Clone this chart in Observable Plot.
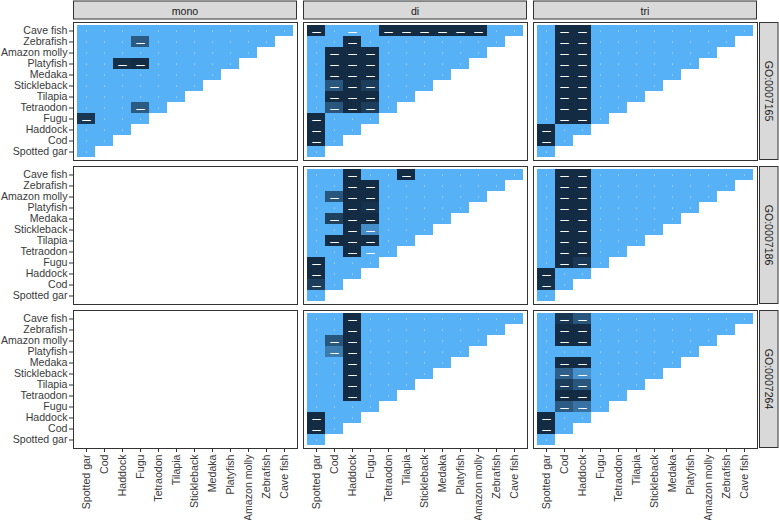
<!DOCTYPE html>
<html><head><meta charset="utf-8">
<script src="https://cdn.jsdelivr.net/npm/d3@7"></script>
<script src="https://cdn.jsdelivr.net/npm/@observablehq/plot@0.6"></script>
<style>
body{margin:0;background:#fff;}
#chart svg{font-family:"Liberation Sans", Arial, sans-serif;}
</style></head><body><div id="chart"></div>
<script>
// Row species (top to bottom) and column species (left to right)
const ySpecies = ["Cave fish","Zebrafish","Amazon molly","Platyfish","Medaka","Stickleback","Tilapia","Tetraodon","Fugu","Haddock","Cod","Spotted gar"];
const xSpecies = ["Spotted gar","Cod","Haddock","Fugu","Tetraodon","Tilapia","Stickleback","Medaka","Platyfish","Amazon molly","Zebrafish","Cave fish"];
const ploidy = ["mono","di","tri"];
const goTerms = ["GO:0007165","GO:0007186","GO:0007264"];

// Cell values per panel, one row per ySpecies entry (0 = dark, 1 = light)
const mono_0007165 = [
  [1,1,1,1,1,1,1,1,1,1,1,1],
  [1,1,1,0.38,1,1,1,1,1,1,1],
  [1,1,1,1,1,1,1,1,1,1],
  [1,1,0.04,0,1,1,1,1,1],
  [1,1,1,1,1,1,1,1],
  [1,1,1,1,1,1,1],
  [1,1,1,1,1,1],
  [1,1,1,0.38,1],
  [0.1,1,1,1],
  [1,1,1],
  [1,1],
  [1]
];
const di_0007165 = [
  [0,1,1,1,0,0,0,0,0,0,1,1],
  [1,1,0,1,1,1,1,1,1,1,1],
  [1,0,0,0,1,1,1,1,1,1],
  [1,0,0,0,1,1,1,1,1],
  [1,0,0,0,1,1,1,1],
  [1,0.35,0,0.15,1,1,1],
  [1,0,0,0,1,1],
  [1,0.35,0,0.15,1],
  [0,1,1,1],
  [0,1,1],
  [0,1],
  [1]
];
const tri_0007165 = [
  [1,0,0,1,1,1,1,1,1,1,1,1],
  [1,0,0,1,1,1,1,1,1,1,1],
  [1,0,0,1,1,1,1,1,1,1],
  [1,0,0,1,1,1,1,1,1],
  [1,0,0,1,1,1,1,1],
  [1,0,0,1,1,1,1],
  [1,0,0,1,1,1],
  [1,0,0,1,1],
  [1,0,0,1],
  [0,1,1],
  [0,1],
  [1]
];
const di_0007186 = [
  [1,1,0,1,1,0,1,1,1,1,1,1],
  [1,1,0,0,1,1,1,1,1,1,1],
  [1,0.35,0,0,1,1,1,1,1,1],
  [1,1,0,0.05,1,1,1,1,1],
  [1,0.18,0,0,1,1,1,1],
  [1,1,0,0.75,1,1,1],
  [1,0,0,0,1,1],
  [1,1,0,1,1],
  [0,1,1,1],
  [0,1,1],
  [0.15,1],
  [1]
];
const tri_0007186 = [
  [1,0,0,1,1,1,1,1,1,1,1,1],
  [1,0,0,1,1,1,1,1,1,1,1],
  [1,0,0,1,1,1,1,1,1,1],
  [1,0,0,1,1,1,1,1,1],
  [1,0,0,1,1,1,1,1],
  [1,0,0,1,1,1,1],
  [1,0,0,1,1,1],
  [1,0,0,1,1],
  [1,0,0.12,1],
  [0,1,1],
  [0.04,1],
  [1]
];
const di_0007264 = [
  [1,1,0,1,1,1,1,1,1,1,1,1],
  [1,1,0,1,1,1,1,1,1,1,1],
  [1,0.35,0,1,1,1,1,1,1,1],
  [1,0.62,0,1,1,1,1,1,1],
  [1,1,0,1,1,1,1,1],
  [1,1,0,1,1,1,1],
  [1,1,0,1,1,1],
  [1,1,0,1,1],
  [1,1,1,1],
  [0,1,1],
  [0,1],
  [1]
];
const tri_0007264 = [
  [1,0.1,0.35,1,1,1,1,1,1,1,1,1],
  [1,0,0,1,1,1,1,1,1,1,1],
  [1,0,0,1,1,1,1,1,1,1],
  [1,1,1,1,1,1,1,1,1],
  [1,0,0,1,1,1,1,1],
  [1,0.42,0.78,1,1,1,1],
  [1,0.15,0.35,1,1,1],
  [1,0,0,1,1],
  [1,0.38,0.56,1],
  [0,1,1],
  [0,1],
  [1]
];
const panels = [
  {col:"mono", go:"GO:0007165", rows: mono_0007165},
  {col:"di",   go:"GO:0007165", rows: di_0007165},
  {col:"tri",  go:"GO:0007165", rows: tri_0007165},
  {col:"mono", go:"GO:0007186", rows: null},
  {col:"di",   go:"GO:0007186", rows: di_0007186},
  {col:"tri",  go:"GO:0007186", rows: tri_0007186},
  {col:"mono", go:"GO:0007264", rows: null},
  {col:"di",   go:"GO:0007264", rows: di_0007264},
  {col:"tri",  go:"GO:0007264", rows: tri_0007264}
];
// light cells that still carry a dash label
const dashedLight = [
  ["di","GO:0007165","Cave fish","Haddock"],
  ["di","GO:0007186","Tetraodon","Fugu"]
];

const cells = panels.flatMap(p => p.rows ? p.rows.flatMap((row, r) => row.map((v, c) => {
  const y = ySpecies[r], x = xSpecies[c];
  const flagged = dashedLight.some(d => d[0] === p.col && d[1] === p.go && d[2] === y && d[3] === x);
  return {col: p.col, go: p.go, y, x, v, dash: v < 0.9 || flagged};
})) : []);

const chart = Plot.plot({
  width: 779, height: 520,
  marginLeft: 72, marginRight: 21, marginTop: 21, marginBottom: 72,
  style: {fontFamily: "Liberation Sans, Arial, sans-serif", fontSize: "10.6px", color: "#333", background: "white"},
  fx: {domain: ploidy, axis: null, paddingInner: 0.026, paddingOuter: 0},
  fy: {domain: goTerms, axis: null, paddingInner: 0.045, paddingOuter: 0},
  x: {domain: xSpecies, padding: 0},
  y: {domain: ySpecies, padding: 0},
  color: {type: "linear", domain: [0, 1], range: ["#132B43", "#56B1F7"], interpolate: "lab"},
  marks: [
    Plot.text(panels, {fx: "col", fy: "go", text: () => ""}),
    Plot.cell(cells, {fx: "col", fy: "go", x: "x", y: "y", fill: "v"}),
    Plot.dot(cells.filter(d => !d.dash), {fx: "col", fy: "go", x: "x", y: "y", r: 0.55, fill: "white", fillOpacity: 0.8}),
    Plot.text(cells.filter(d => d.dash), {fx: "col", fy: "go", x: "x", y: "y", text: () => "\u2014", fill: "white", stroke: "white", strokeWidth: 0.35, fontSize: 8}),
    Plot.frame({stroke: "#333", strokeWidth: 1}),
    Plot.axisX({tickRotate: -90, tickSize: 4, tickPadding: 2, label: null, fill: "#3a3a3a"}),
    Plot.axisY({tickSize: 4, tickPadding: 2, label: null, fill: "#3a3a3a"})
  ]
});
document.getElementById("chart").appendChild(chart);

// facet strips drawn with Plot's own facet scales
const fxs = chart.scale("fx"), fys = chart.scale("fy");
const svg = d3.select(chart);
const g = svg.append("g");
for (const v of ploidy) {
  const x0 = fxs.apply(v), w = fxs.bandwidth;
  g.append("rect").attr("x", x0 + 0.5).attr("y", 1).attr("width", w - 1).attr("height", 18)
    .attr("fill", "#d9d9d9").attr("stroke", "#333").attr("stroke-width", 1);
  g.append("text").attr("x", x0 + w / 2).attr("y", 10.5).attr("text-anchor", "middle")
    .attr("dominant-baseline", "central").attr("fill", "#1a1a1a").attr("font-size", "10.6px").text(v);
}
for (const v of goTerms) {
  const y0 = fys.apply(v), h = fys.bandwidth;
  g.append("rect").attr("x", 759.5).attr("y", y0 + 0.5).attr("width", 18.5).attr("height", h - 1)
    .attr("fill", "#d9d9d9").attr("stroke", "#333").attr("stroke-width", 1);
  g.append("text").attr("transform", `translate(768.5,${y0 + h / 2}) rotate(90)`).attr("text-anchor", "middle")
    .attr("dominant-baseline", "central").attr("fill", "#1a1a1a").attr("font-size", "10.6px").text(v);
}
</script></body></html>
